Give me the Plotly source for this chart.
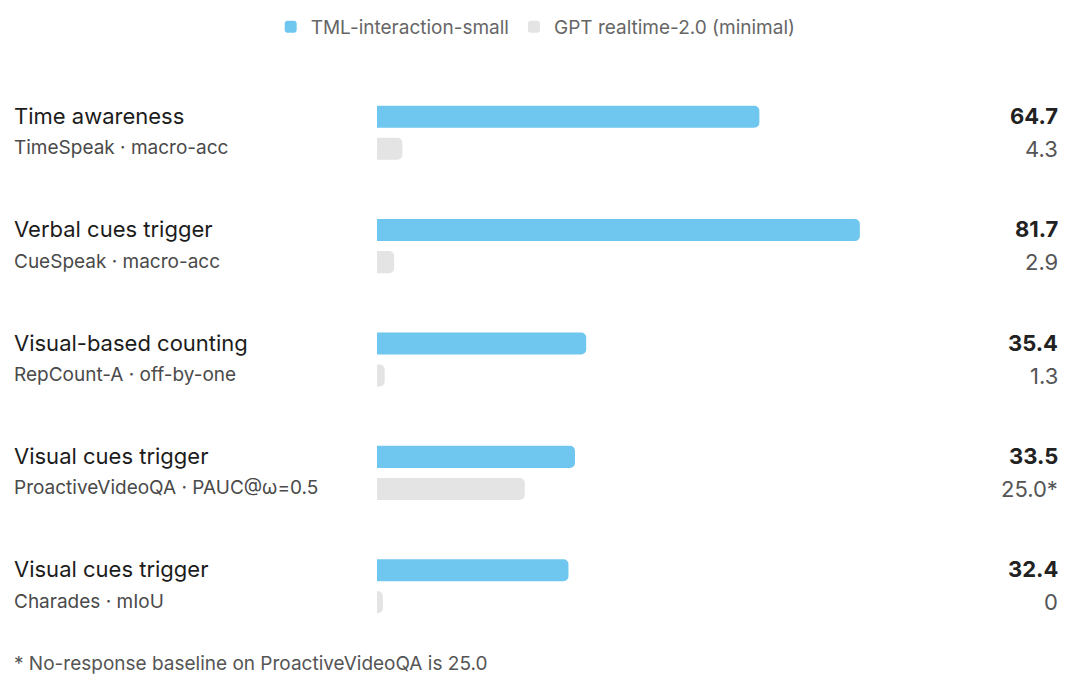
import plotly.graph_objects as go

# data
titles = ["Time awareness", "Verbal cues trigger", "Visual-based counting",
          "Visual cues trigger", "Visual cues trigger"]
subtitles = ["TimeSpeak · macro-acc", "CueSpeak · macro-acc", "RepCount-A · off-by-one",
             "ProactiveVideoQA · PAUC@ω=0.5", "Charades · mIoU"]
tml_values = [64.7, 81.7, 35.4, 33.5, 32.4]
gpt_values = [4.3, 2.9, 1.3, 25.0, 0.0]
tml_labels = ["64.7", "81.7", "35.4", "33.5", "32.4"]
gpt_labels = ["4.3", "2.9", "1.3", "25.0*", "0"]
footnote = "* No-response baseline on ProactiveVideoQA is 25.0"

BLUE = "#6FC6EE"
GREY = "#E4E4E4"
FONT = "Inter, Liberation Sans, sans-serif"

W, H = 1080, 697
ML, MR, MT, MB = 377, 23, 76, 54
plot_w = W - ML - MR
plot_h = H - MT - MB

# tiny stub so a zero bar is still visible, like the original
gpt_drawn = [max(v, 1.0) for v in gpt_values]

fig = go.Figure()
fig.add_trace(go.Bar(y=subtitles, x=tml_values, orientation="h", name="TML-interaction-small",
                     marker=dict(color=BLUE, cornerradius=5, line_width=0), hoverinfo="skip"))
fig.add_trace(go.Bar(y=subtitles, x=gpt_drawn, orientation="h", name="GPT realtime-2.0 (minimal)",
                     marker=dict(color=GREY, cornerradius=5, line_width=0), hoverinfo="skip"))

ann = []
label_x = (12 - ML) / plot_w
for t, s, a, b in zip(titles, subtitles, tml_labels, gpt_labels):
    ann.append(dict(x=label_x, y=s, xref="paper", yref="y", text=t, showarrow=False,
                    xanchor="left", yanchor="middle", yshift=17,
                    font=dict(size=22, color="#1c1c1c", family=FONT)))
    ann.append(dict(x=label_x, y=s, xref="paper", yref="y", text=s, showarrow=False,
                    xanchor="left", yanchor="middle", yshift=-15,
                    font=dict(size=19, color="#4a4a4a", family=FONT)))
    ann.append(dict(x=1, y=s, xref="paper", yref="y", text="<b>" + a + "</b>", showarrow=False,
                    xanchor="right", yanchor="middle", yshift=17, xshift=3,
                    font=dict(size=22, color="#222222", family=FONT)))
    ann.append(dict(x=1, y=s, xref="paper", yref="y", text=b, showarrow=False,
                    xanchor="right", yanchor="middle", yshift=-16, xshift=3,
                    font=dict(size=22, color="#555555", family=FONT)))
ann.append(dict(x=label_x, y=-(663 - (H - MB)) / plot_h, xref="paper", yref="paper", text=footnote,
                showarrow=False, xanchor="left", yanchor="middle",
                font=dict(size=19, color="#555555", family=FONT)))

fig.update_layout(
    width=W, height=H,
    margin=dict(l=ML, r=MR, t=MT, b=MB),
    paper_bgcolor="white", plot_bgcolor="white",
    barmode="group", bargap=0.435, bargroupgap=0.3125,
    font=dict(family=FONT),
    xaxis=dict(range=[0, plot_w / 5.91], showgrid=False, zeroline=False,
               showticklabels=False, fixedrange=True),
    yaxis=dict(autorange="reversed", showgrid=False, zeroline=False,
               showticklabels=False, fixedrange=True),
    legend=dict(orientation="h", xref="container", yref="container", x=0.496, y=1 - 27 / H,
                xanchor="center", yanchor="middle", font=dict(size=19, color="#666666"),
                itemwidth=30, traceorder="normal"),
    annotations=ann,
)

fig.write_html("out.html", config={"displayModeBar": False},
               post_script="document.body.style.margin='0';")
